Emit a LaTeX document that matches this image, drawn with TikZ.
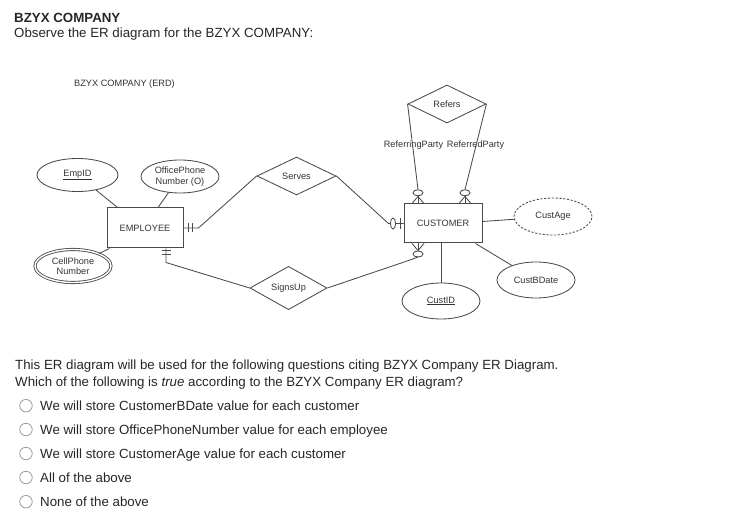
\documentclass[tikz,border=0pt]{standalone}
\usepackage{fontspec}
\setmainfont{Liberation Sans}
\usetikzlibrary{shapes.geometric,calc}
\definecolor{txt}{HTML}{262626}
\definecolor{ln}{HTML}{4A4A4A}
\definecolor{dtxt}{HTML}{333333}
\begin{document}
\begin{tikzpicture}[x=1pt,y=-1pt,
  dfont/.style={font=\fontsize{9.2}{10.5}\selectfont,text=dtxt},
  ent/.style={draw=ln,line width=1pt,rectangle,minimum width=76pt,minimum height=40pt,inner sep=0pt,dfont},
  attr/.style={draw=ln,line width=0.85pt,ellipse,minimum width=78pt,minimum height=36pt,inner sep=0pt,align=center,dfont},
  rel/.style={draw=ln,line width=0.85pt,diamond,minimum width=78pt,minimum height=38pt,inner sep=0pt,dfont},
  conn/.style={draw=ln,line width=0.85pt},
  lbl/.style={inner sep=0pt,dfont},
  qtext/.style={anchor=base west,inner sep=0pt,font=\fontsize{13.3}{16}\selectfont,text=txt},
  radio/.style={circle,draw=gray!75,line width=0.85pt,minimum size=12.5pt,inner sep=0pt}]
\useasboundingbox (0,0) rectangle (742,529);

% header
\node[qtext,font=\fontsize{13.3}{16}\selectfont\bfseries] (title) at (14,22.7) {BZYX COMPANY};
\node[qtext] (obs) at (14,37.7) {Observe the ER diagram for the BZYX COMPANY:};

% diagram
\node[lbl] (erd) at (124.5,84.5) {BZYX COMPANY (ERD)};

\node[ent] (emp) at (145,228) {EMPLOYEE};
\node[ent,minimum width=78pt,minimum height=39pt] (cust) at (443,223.5) {CUSTOMER};

\node[attr,minimum width=81pt,minimum height=33pt] (empid) at (77.5,175) {\underline{EmpID}};
\node[attr,minimum height=33pt] (office) at (180,176.5) {OfficePhone\\Number (O)};
\node[attr,double,double distance=1.4pt,minimum width=76pt,minimum height=33pt] (cell) at (73,266) {CellPhone\\Number};
\node[attr] (custid) at (441,301) {\underline{CustID}};
\node[attr] (custb) at (536,280) {CustBDate};
\node[attr,dash pattern=on 2.2pt off 1.6pt,minimum height=37pt] (custage) at (553,216.5) {CustAge};

\node[rel] (refers) at (447,104) {Refers};
\node[rel,minimum width=79pt] (serves) at (296.5,176) {Serves};
\node[rel,minimum width=77pt,minimum height=39pt] (signs) at (288.5,288) {SignsUp};

\node[lbl] (rp) at (413.5,145) {ReferringParty};
\node[lbl] (rdp) at (475.5,145) {ReferredParty};

% attribute connectors
\draw[conn] (empid) -- ($(emp.north west)+(11,0)$);
\draw[conn] (office) -- ($(emp.north)+(13,0)$);
\draw[conn] ($(emp.south west)+(3,0)$) -- (cell);
\draw[conn] (cust.south -| custid.north) -- (custid.north);
\draw[conn] ($(cust.south east)+(-7,0)$) -- (custb);
\draw[conn] ($(cust.east)+(0,-2)$) -- (custage);

% EMPLOYEE -- Serves (one and only one)
\draw[conn] (emp.east) -- ($(emp.east)+(15,0)$) -- (serves.west);
\draw[conn] ($(emp.east)+(5,-4.5)$) -- ++(0,9);
\draw[conn] ($(emp.east)+(9,-4.5)$) -- ++(0,9);

% EMPLOYEE -- SignsUp (one and only one)
\coordinate (eb) at ($(emp.south)+(21,0)$);
\draw[conn] (eb) -- ($(eb)+(0,14)$) -- (signs.west);
\draw[conn] ($(eb)+(-4.5,2)$) -- ++(9,0);
\draw[conn] ($(eb)+(-4.5,6)$) -- ++(9,0);

% Serves -- CUSTOMER (zero or one)
\coordinate (cw) at (cust.west);
\draw[conn] (serves.east) -- ($(cw)+(-15,0)$) -- (cw);
\draw[conn,fill=white] ($(cw)+(-10.5,0)$) ellipse [x radius=2.6pt, y radius=5.5pt];
\draw[conn] ($(cw)+(-3.5,-5.5)$) -- ++(0,11);

% Refers -- CUSTOMER (zero or many), two roles
\coordinate (rl) at ($(cust.north)+(-25,0)$);
\coordinate (rr) at ($(cust.north)+(22,0)$);
\foreach \c/\v in {rl/refers.west, rr/refers.east}{
  \draw[conn] (\v) -- ($(\c)+(0,-14)$);
  \draw[conn] ($(\c)+(0,-8)$) -- (\c);
  \draw[conn] ($(\c)+(0,-7)$) -- ($(\c)+(-6,0)$);
  \draw[conn] ($(\c)+(0,-7)$) -- ($(\c)+(6,0)$);
  \draw[conn,fill=white] ($(\c)+(0,-10.7)$) ellipse [x radius=5pt, y radius=3pt];
}

% CUSTOMER -- SignsUp (zero or many)
\coordinate (rb) at ($(cust.south)+(-25,0)$);
\draw[conn] (rb) -- ($(rb)+(0,8)$);
\draw[conn] ($(rb)+(0,7)$) -- ($(rb)+(-6,0)$);
\draw[conn] ($(rb)+(0,7)$) -- ($(rb)+(6,0)$);
\draw[conn] ($(rb)+(0,13.5)$) -- ($(rb)+(-5,15.5)$) -- (signs.east);
\draw[conn,fill=white] ($(rb)+(0,10.5)$) ellipse [x radius=5pt, y radius=3pt];

% question
\node[qtext] (q1) at (15,370) {This ER diagram will be used for the following questions citing BZYX Company ER Diagram.};
\node[qtext] (q2) at (15,386.5) {Which of the following is \textit{true} according to the BZYX Company ER diagram?};

\node[radio] (r1) at (26,405.7) {};
\node[radio] (r2) at (26,429.5) {};
\node[radio] (r3) at (26,453.5) {};
\node[radio] (r4) at (26,477.5) {};
\node[radio] (r5) at (26,501.7) {};
\node[qtext] (o1) at (40,410.5) {We will store CustomerBDate value for each customer};
\node[qtext] (o2) at (40,434.3) {We will store OfficePhoneNumber value for each employee};
\node[qtext] (o3) at (40,458.3) {We will store CustomerAge value for each customer};
\node[qtext] (o4) at (40,482.3) {All of the above};
\node[qtext] (o5) at (40,506.5) {None of the above};
\end{tikzpicture}
\end{document}
